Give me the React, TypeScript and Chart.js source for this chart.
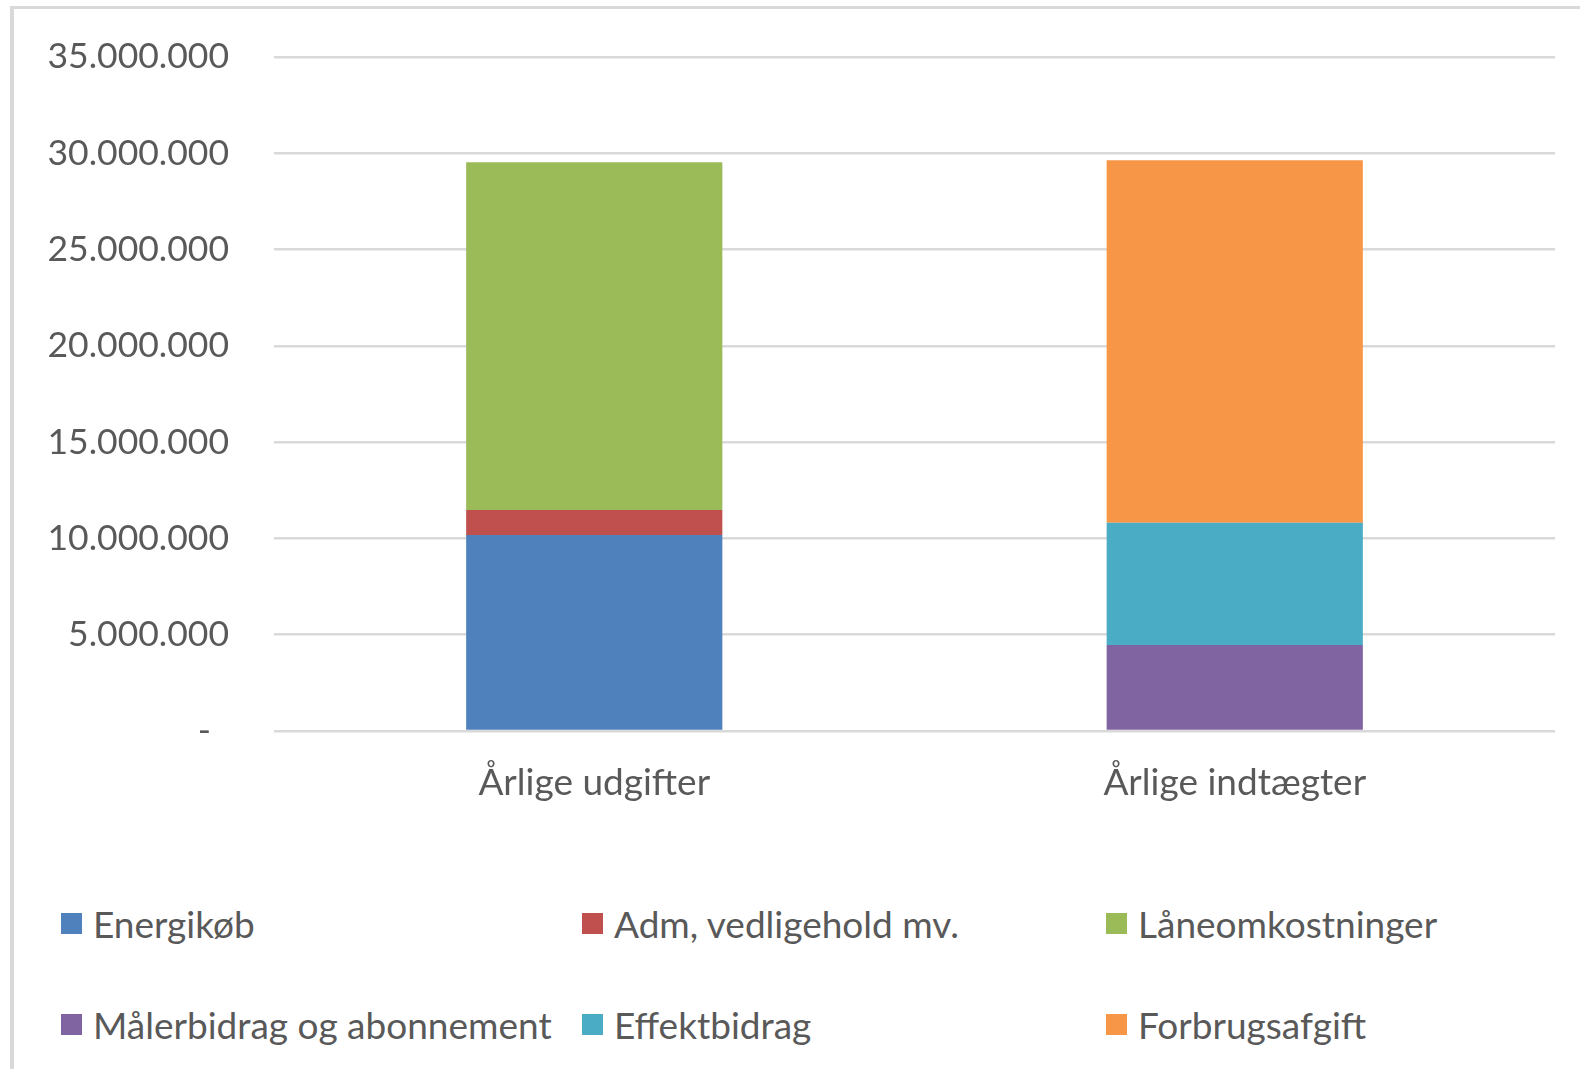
import React, { useEffect, useRef } from "react";
import { Chart, registerables } from "chart.js";

Chart.register(...registerables);

const categories = ["Årlige udgifter", "Årlige indtægter"];

const seriesNames = [
  "Energikøb",
  "Adm, vedligehold mv.",
  "Låneomkostninger",
  "Målerbidrag og abonnement",
  "Effektbidrag",
  "Forbrugsafgift",
];

const energikob = [10180000, null];
const admVedligehold = [1300000, null];
const laneomkostninger = [18060000, null];
const malerbidrag = [null, 4470000];
const effektbidrag = [null, 6350000];
const forbrugsafgift = [null, 18820000];

const seriesValues = [
  energikob,
  admVedligehold,
  laneomkostninger,
  malerbidrag,
  effektbidrag,
  forbrugsafgift,
];

const seriesColors = ["#4F81BD", "#C0504D", "#9BBB59", "#8064A2", "#4BACC6", "#F79646"];

const yMin = 0;
const yMax = 35000000;
const yStep = 5000000;

const FONT = "Lato, 'Open Sans', sans-serif";
const TEXT = "#595959";

function formatDa(v: number): string {
  if (v === 0) return "-  ";
  return String(Math.round(v)).replace(/\B(?=(\d{3})+(?!\d))/g, ".");
}

// legend layout: 3 columns, 2 rows
const legendCols = [61, 582, 1106];
const legendRows = [905, 1006];

export default function App() {
  const canvasRef = useRef<HTMLCanvasElement | null>(null);

  useEffect(() => {
    const canvas = canvasRef.current;
    if (!canvas) return;
    const chart = new Chart(canvas, {
      type: "bar",
      data: {
        labels: categories,
        datasets: seriesNames.map((name, i) => ({
          label: name,
          data: seriesValues[i] as any,
          backgroundColor: seriesColors[i],
          borderWidth: 0,
          barPercentage: 0.4,
          categoryPercentage: 1,
        })),
      },
      options: {
        responsive: false,
        animation: false,
        devicePixelRatio: 1,
        layout: { padding: { left: 0, right: 25, top: 57, bottom: 0 } },
        plugins: {
          legend: { display: false },
          tooltip: { enabled: false },
          title: { display: false },
        },
        scales: {
          x: {
            stacked: true,
            grid: { display: false, drawTicks: false },
            border: { display: false },
            ticks: {
              color: TEXT,
              font: { family: FONT, size: 37 },
              padding: 30,
            },
            afterFit: (s: any) => {
              s.height = 119;
            },
          },
          y: {
            stacked: true,
            min: yMin,
            max: yMax,
            grid: { color: "#d9d9d9", lineWidth: 2.5, drawTicks: false },
            border: { display: false },
            ticks: {
              stepSize: yStep,
              color: TEXT,
              font: { family: FONT, size: 35.5 },
              padding: 45,
              callback: (v: any) => formatDa(Number(v)),
            },
            afterFit: (s: any) => {
              s.width = 274;
              s.paddingTop = 20;
              s.paddingBottom = 20;
            },
          },
        },
      },
    });
    return () => chart.destroy();
  }, []);

  return (
    <div
      style={{
        position: "absolute",
        left: 0,
        top: 0,
        width: 1580,
        height: 1069,
        overflow: "hidden",
        background: "#ffffff",
      }}
    >
      <div
        style={{
          position: "absolute",
          left: 10,
          top: 6,
          width: 1600,
          height: 1100,
          borderLeft: "4px solid #d9d9d9",
          borderTop: "3px solid #d9d9d9",
        }}
      />
      <canvas
        ref={canvasRef}
        width={1580}
        height={850}
        style={{ position: "absolute", left: 0, top: 0, width: 1580, height: 850 }}
      />
      {seriesNames.map((name, i) => {
        const col = i % 3;
        const row = Math.floor(i / 3);
        return (
          <div
            key={name}
            style={{
              position: "absolute",
              left: legendCols[col],
              top: legendRows[row],
              height: 37,
              display: "flex",
              alignItems: "center",
              whiteSpace: "nowrap",
            }}
          >
            <div
              style={{
                width: 21,
                height: 21,
                background: seriesColors[i],
                marginRight: 11,
                flex: "none",
              }}
            />
            <span
              style={{
                fontFamily: FONT,
                fontSize: 37,
                lineHeight: "37px",
                color: TEXT,
              }}
            >
              {name}
            </span>
          </div>
        );
      })}
    </div>
  );
}
